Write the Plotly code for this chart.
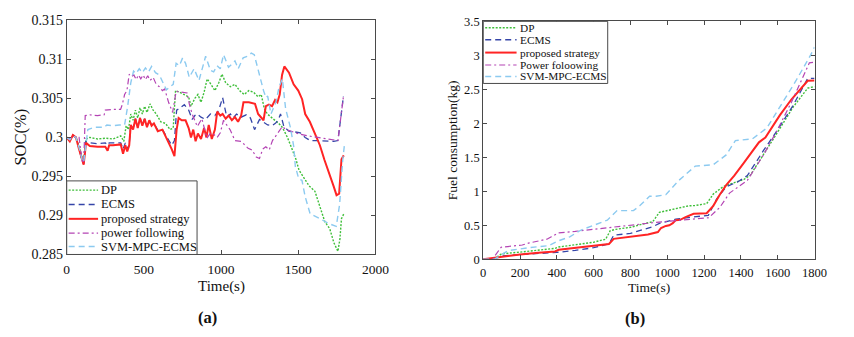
import plotly.graph_objects as go

# ---------------- (a) SOC data ----------------
soc_dp_t = [0, 20, 40, 60, 80, 100, 110, 125, 150, 200,
            250, 300, 350, 370, 385, 400, 415, 430, 445, 460,
            475, 490, 505, 520, 540, 560, 580, 610, 640, 670,
            690, 705, 730, 760, 790, 805, 830, 850, 870, 890,
            910, 935, 960, 985, 1006, 1030, 1060, 1090, 1120, 1150,
            1180, 1210, 1240, 1260, 1280, 1300, 1330, 1360, 1390, 1410,
            1430, 1460, 1485, 1505, 1534, 1570, 1608, 1640, 1672, 1704,
            1731, 1757, 1770, 1780, 1795]
soc_dp = [0.3000, 0.2997, 0.3002, 0.3000, 0.2988, 0.2974, 0.2972, 0.2998, 0.3000, 0.2998,
          0.2999, 0.2998, 0.3002, 0.2995, 0.3015, 0.3010, 0.3030, 0.3022, 0.3035, 0.3025,
          0.3038, 0.3030, 0.3040, 0.3032, 0.3043, 0.3035, 0.3030, 0.3020, 0.3018, 0.3010,
          0.3012, 0.3060, 0.3058, 0.3055, 0.3052, 0.3040, 0.3050, 0.3055, 0.3045, 0.3058,
          0.3075, 0.3068, 0.3060, 0.3070, 0.3081, 0.3070, 0.3065, 0.3068, 0.3060, 0.3055,
          0.3060, 0.3058, 0.3052, 0.3055, 0.3037, 0.3030, 0.3025, 0.3020, 0.3015, 0.3008,
          0.3000, 0.2985, 0.2972, 0.2958, 0.2949, 0.2938, 0.2931, 0.2912, 0.2892, 0.2883,
          0.2865, 0.2854, 0.2870, 0.2896, 0.2902]

soc_ecms_t = [0, 20, 40, 60, 80, 100, 110, 125, 150, 200,
              250, 265, 275, 300, 350, 365, 380, 392, 405, 415,
              430, 445, 460, 475, 490, 505, 520, 535, 550, 565,
              590, 620, 650, 680, 698, 712, 730, 762, 790, 813,
              830, 846, 870, 899, 931, 960, 985, 1010, 1037, 1060,
              1079, 1100, 1130, 1163, 1190, 1217, 1249, 1275, 1302, 1330,
              1352, 1370, 1385, 1407, 1439, 1480, 1513, 1545, 1577, 1620,
              1680, 1730, 1757, 1793]
soc_ecms = [0.3000, 0.2996, 0.3003, 0.3000, 0.2986, 0.2969, 0.2966, 0.2995, 0.2993, 0.2992,
            0.2993, 0.2990, 0.2993, 0.2993, 0.2993, 0.2985, 0.2993, 0.2985, 0.2991, 0.3016,
            0.3011, 0.3024, 0.3013, 0.3025, 0.3016, 0.3024, 0.3014, 0.3022, 0.3016, 0.3018,
            0.3009, 0.3010, 0.2999, 0.2990, 0.2996, 0.3035, 0.3037, 0.3042, 0.3035, 0.3023,
            0.3028, 0.3030, 0.3026, 0.3023, 0.3030, 0.3028, 0.3035, 0.3051, 0.3026, 0.3030,
            0.3025, 0.3030, 0.3026, 0.3029, 0.3025, 0.3010, 0.3023, 0.3020, 0.3016, 0.3015,
            0.3018, 0.3022, 0.3030, 0.3014, 0.3008, 0.3007, 0.3006, 0.3000, 0.2996, 0.2996,
            0.2995, 0.2995, 0.2996, 0.3053]

soc_prop_t = [0, 20, 40, 60, 80, 100, 110, 125, 150, 200,
              250, 265, 275, 300, 350, 365, 380, 392, 405, 415,
              430, 445, 460, 475, 490, 505, 520, 535, 550, 565,
              590, 620, 650, 680, 698, 712, 725, 745, 770, 790,
              805, 820, 835, 850, 870, 890, 905, 920, 940, 960,
              975, 995, 1010, 1030, 1050, 1070, 1090, 1110, 1130, 1145,
              1180, 1220, 1240, 1260, 1275, 1290, 1310, 1330, 1350, 1365,
              1380, 1395, 1410, 1440, 1470, 1500, 1525, 1545, 1575, 1610,
              1640, 1670, 1700, 1730, 1748, 1765, 1780, 1795]
soc_prop = [0.3000, 0.2995, 0.3003, 0.3000, 0.2985, 0.2970, 0.2965, 0.2993, 0.2989, 0.2988,
            0.2988, 0.2983, 0.2990, 0.2990, 0.2991, 0.2979, 0.2990, 0.2982, 0.2990, 0.3016,
            0.3010, 0.3024, 0.3012, 0.3025, 0.3015, 0.3024, 0.3013, 0.3022, 0.3015, 0.3018,
            0.3008, 0.3010, 0.2998, 0.2985, 0.2976, 0.3010, 0.3025, 0.3022, 0.3022, 0.3012,
            0.3000, 0.3010, 0.2995, 0.3005, 0.2998, 0.3012, 0.3000, 0.3016, 0.2998, 0.3010,
            0.3033, 0.3028, 0.3030, 0.3024, 0.3028, 0.3022, 0.3026, 0.3020, 0.3028, 0.3045,
            0.3045, 0.3043, 0.3030, 0.3025, 0.3022, 0.3040, 0.3042, 0.3040, 0.3048, 0.3045,
            0.3055, 0.3080, 0.3091, 0.3083, 0.3068, 0.3060, 0.3049, 0.3030, 0.3020, 0.3004,
            0.2990, 0.2971, 0.2955, 0.2937, 0.2926, 0.2928, 0.2972, 0.2977]

soc_pf_t = [0, 20, 40, 60, 80, 100, 110, 120, 150, 200,
            243, 250, 300, 349, 360, 375, 390, 405, 420, 435,
            450, 465, 480, 495, 510, 525, 540, 560, 580, 600,
            620, 635, 660, 686, 709, 740, 780, 794, 813, 846,
            876, 908, 930, 952, 975, 995, 1016, 1040, 1058, 1090,
            1131, 1175, 1200, 1228, 1249, 1270, 1290, 1312, 1333, 1355,
            1376, 1397, 1420, 1450, 1480, 1513, 1560, 1619, 1700, 1757,
            1793]
soc_pf = [0.3000, 0.2998, 0.3002, 0.3000, 0.3000, 0.2970, 0.2967, 0.3028, 0.3029, 0.3028,
          0.3029, 0.3035, 0.3036, 0.3036, 0.3042, 0.3055, 0.3060, 0.3081, 0.3078, 0.3080,
          0.3074, 0.3080, 0.3075, 0.3080, 0.3074, 0.3079, 0.3073, 0.3077, 0.3068, 0.3065,
          0.3060, 0.3062, 0.3045, 0.3032, 0.3059, 0.3058, 0.3057, 0.3043, 0.3030, 0.3014,
          0.3024, 0.2999, 0.3005, 0.3004, 0.3000, 0.3006, 0.3022, 0.3015, 0.3010, 0.2996,
          0.2995, 0.2986, 0.2984, 0.2975, 0.2973, 0.2985, 0.2988, 0.2984, 0.2996, 0.3002,
          0.3008, 0.3014, 0.3010, 0.3008, 0.3006, 0.3004, 0.3002, 0.3000, 0.2998, 0.2996,
          0.3053]

soc_svm_t = [0, 20, 40, 60, 80, 100, 110, 125, 137, 180,
             243, 260, 300, 340, 375, 395, 415, 433, 450, 470,
             490, 510, 530, 550, 575, 600, 625, 646, 670, 690,
             709, 730, 751, 770, 794, 825, 857, 880, 900, 931,
             952, 974, 995, 1016, 1048, 1070, 1090, 1111, 1143, 1170,
             1196, 1215, 1249, 1275, 1291, 1302, 1323, 1355, 1376, 1397,
             1418, 1450, 1471, 1481, 1503, 1524, 1545, 1577, 1640, 1693,
             1746, 1768, 1788, 1799]
soc_svm = [0.3000, 0.2997, 0.3002, 0.3000, 0.2987, 0.2971, 0.2968, 0.2996, 0.3010, 0.3013,
           0.3013, 0.3016, 0.3015, 0.3016, 0.3016, 0.3040, 0.3070, 0.3085, 0.3082, 0.3088,
           0.3083, 0.3089, 0.3084, 0.3091, 0.3083, 0.3080, 0.3070, 0.3061, 0.3065, 0.3068,
           0.3095, 0.3092, 0.3102, 0.3095, 0.3077, 0.3088, 0.3073, 0.3090, 0.3104, 0.3086,
           0.3084, 0.3092, 0.3088, 0.3106, 0.3090, 0.3094, 0.3098, 0.3088, 0.3102, 0.3104,
           0.3108, 0.3106, 0.3079, 0.3060, 0.3051, 0.3053, 0.3030, 0.3045, 0.3065, 0.3075,
           0.3037, 0.3012, 0.2988, 0.2963, 0.2947, 0.2945, 0.2924, 0.2902, 0.2896, 0.2890,
           0.2886, 0.2914, 0.2971, 0.2990]

# ---------------- (b) fuel data ----------------
fuel_dp_t = [0, 40, 72, 100, 200, 300, 390, 410, 500, 600, 665, 690, 720, 800, 870, 921,
             957, 1000, 1063, 1116, 1150, 1214, 1250, 1303, 1338, 1417, 1452, 1533, 1595,
             1683, 1763, 1800]
fuel_dp = [0, 0.0, 0.03, 0.08, 0.105, 0.13, 0.16, 0.18, 0.21, 0.25, 0.295, 0.42, 0.44, 0.47,
           0.52, 0.552, 0.69, 0.716, 0.753, 0.786, 0.79, 0.818, 0.959, 1.067, 1.104, 1.174,
           1.24, 1.58, 1.85, 2.236, 2.517, 2.54]

fuel_ecms_t = [0, 50, 70, 100, 200, 300, 400, 500, 600, 683, 709, 800, 921, 960, 1046,
               1134, 1223, 1267, 1320, 1382, 1435, 1523, 1595, 1683, 1763, 1800]
fuel_ecms = [0, 0, 0.02, 0.05, 0.07, 0.085, 0.10, 0.13, 0.17, 0.225, 0.355, 0.38, 0.48,
             0.53, 0.59, 0.62, 0.645, 0.88, 1.067, 1.137, 1.23, 1.6, 1.886, 2.26, 2.66, 2.66]

fuel_prop_t = [0, 30, 100, 200, 300, 390, 410, 500, 600, 683, 709, 800, 895, 949, 966, 992,
               1011, 1030, 1046, 1070, 1099, 1143, 1214, 1250, 1285, 1320, 1364, 1417, 1462,
               1498, 1533, 1612, 1674, 1763, 1800]
fuel_prop = [0, 0.01, 0.04, 0.07, 0.095, 0.115, 0.14, 0.165, 0.195, 0.224, 0.30, 0.33, 0.364,
             0.40, 0.46, 0.49, 0.50, 0.53, 0.575, 0.58, 0.62, 0.668, 0.678, 0.786, 0.95, 1.09,
             1.23, 1.42, 1.58, 1.72, 1.79, 2.12, 2.35, 2.625, 2.63]

fuel_pf_t = [0, 50, 97, 150, 212, 250, 283, 346, 370, 408, 500, 600, 674, 800, 921, 1050,
             1150, 1225, 1285, 1338, 1435, 1523, 1595, 1674, 1772, 1800]
fuel_pf = [0, 0, 0.177, 0.19, 0.21, 0.24, 0.257, 0.295, 0.33, 0.388, 0.41, 0.44, 0.47, 0.50,
           0.537, 0.57, 0.59, 0.61, 0.762, 0.973, 1.16, 1.535, 1.886, 2.306, 2.89, 2.9]

fuel_svm_t = [0, 60, 117, 142, 250, 355, 408, 470, 532, 600, 674, 727, 816, 850, 904, 939,
              992, 1063, 1152, 1250, 1320, 1370, 1462, 1541, 1612, 1700, 1780, 1800]
fuel_svm = [0, 0, 0.098, 0.13, 0.17, 0.2, 0.27, 0.33, 0.43, 0.5, 0.575, 0.716, 0.716, 0.786,
            0.927, 0.927, 0.95, 1.16, 1.37, 1.39, 1.535, 1.745, 1.77, 1.93, 2.24, 2.63, 3.01,
            3.12]

labels_a = ["DP", "ECMS", "proposed strategy", "power following", "SVM-MPC-ECMS"]
labels_b = ["DP", "ECMS", "proposed strategy", "Power foloowing", "SVM-MPC-ECMS"]
soc_ticks = [0.285, 0.29, 0.295, 0.3, 0.305, 0.31, 0.315]
soc_ticktext = ["0.285", "0.29", "0.295", "0.3", "0.305", "0.31", "0.315"]

# ---------------- styles ----------------
styles = [
    dict(color="#3fbf3a", width=1.4, dash="2px,1.5px"),
    dict(color="#3545a8", width=1.3, dash="6px,4px"),
    dict(color="#ff2424", width=2.0, dash="solid"),
    dict(color="#b444b4", width=1.2, dash="6px,3px,2px,3px"),
    dict(color="#8ccaf0", width=1.4, dash="6px,4px"),
]

FONT = "Liberation Serif, Times New Roman, serif"
W, H = 854, 337
AX = "#4a4a4a"

fig = go.Figure()
soc_series = [(soc_dp_t, soc_dp), (soc_ecms_t, soc_ecms), (soc_prop_t, soc_prop),
              (soc_pf_t, soc_pf), (soc_svm_t, soc_svm)]
fuel_series = [(fuel_dp_t, fuel_dp), (fuel_ecms_t, fuel_ecms), (fuel_prop_t, fuel_prop),
               (fuel_pf_t, fuel_pf), (fuel_svm_t, fuel_svm)]
for (t, v), st, nm in zip(soc_series, styles, labels_a):
    fig.add_trace(go.Scatter(x=t, y=v, mode="lines", line=st, name=nm,
                             xaxis="x", yaxis="y", showlegend=False))
for (t, v), st, nm in zip(fuel_series, styles, labels_b):
    fig.add_trace(go.Scatter(x=t, y=v, mode="lines", line=st, name=nm,
                             xaxis="x2", yaxis="y2", showlegend=False))

common = dict(showline=True, linecolor=AX, linewidth=1, mirror="ticks", ticks="inside",
              ticklen=4, tickcolor=AX, showgrid=False, zeroline=False)

fig.update_layout(
    width=W, height=H, margin=dict(l=0, r=0, t=0, b=0),
    paper_bgcolor="white", plot_bgcolor="white",
    font=dict(family=FONT, color="#111111"),
    showlegend=False,
    xaxis=dict(domain=[65 / W, 380 / W], anchor="y", range=[0, 2000],
               tickvals=[0, 500, 1000, 1500, 2000], tickfont=dict(size=13.5),
               ticklabelstandoff=2, **common),
    yaxis=dict(domain=[1 - 259 / H, 1 - 14 / H], anchor="x", range=[0.285, 0.315],
               tickvals=soc_ticks, ticktext=soc_ticktext, tickfont=dict(size=14), **common),
    xaxis2=dict(domain=[490 / W, 828 / W], anchor="y2", range=[0, 1800], dtick=200,
                tick0=0, tickfont=dict(size=12.5), ticklabelstandoff=2, **common),
    yaxis2=dict(domain=[1 - 264 / H, 1 - 15 / H], anchor="x2", range=[0, 3.5], dtick=0.5,
                tick0=0, tickfont=dict(size=12.5), **common),
)


def P(x, y):
    return x / W, 1 - y / H


shapes = []
annots = []


def legend(box, ys, sx0, sx1, tx, size, labels):
    x0, y0 = P(box[0], box[1])
    x1, y1 = P(box[2], box[3])
    shapes.append(dict(type="rect", xref="paper", yref="paper", x0=x0, x1=x1, y0=y0, y1=y1,
                       line=dict(color=AX, width=1), fillcolor="white", layer="above"))
    for yy, st, lab in zip(ys, styles, labels):
        a0, b0 = P(sx0, yy)
        a1, _ = P(sx1, yy)
        shapes.append(dict(type="line", xref="paper", yref="paper", x0=a0, x1=a1, y0=b0, y1=b0,
                           line=dict(color=st["color"], width=st["width"], dash=st["dash"]),
                           layer="above"))
        ax, ay = P(tx, yy)
        annots.append(dict(text=lab, xref="paper", yref="paper", x=ax, y=ay, xanchor="left",
                           yanchor="middle", showarrow=False, borderpad=0,
                           font=dict(size=size, family=FONT)))


legend((65, 182, 198, 259), [191.7, 206.7, 221.7, 236.7, 250.7], 67, 97, 99, 12.5, labels_a)
legend((490, 15, 617, 80), [21.7, 34.3, 47.7, 60.7, 72.7], 492, 524, 526, 11.3, labels_b)


def text(s, x, y, size, angle=0, bold=False):
    ax, ay = P(x, y)
    annots.append(dict(text=f"<b>{s}</b>" if bold else s, xref="paper", yref="paper",
                       x=ax, y=ay, xanchor="center", yanchor="middle", showarrow=False,
                       borderpad=0, textangle=angle, font=dict(size=size, family=FONT)))


text("Time(s)", 222.5, 292, 15)
text("SOC(%)", 18, 136, 16.5, angle=-90)
text("(a)", 208.5, 325, 16.5, bold=True)
text("Time(s)", 659, 294, 13.5)
text("Fuel consumption(kg)", 458, 139.5, 13.5, angle=-90)
text("(b)", 645, 326, 16.5, bold=True)

fig.update_layout(shapes=shapes, annotations=annots)
fig.write_html("out.html")
